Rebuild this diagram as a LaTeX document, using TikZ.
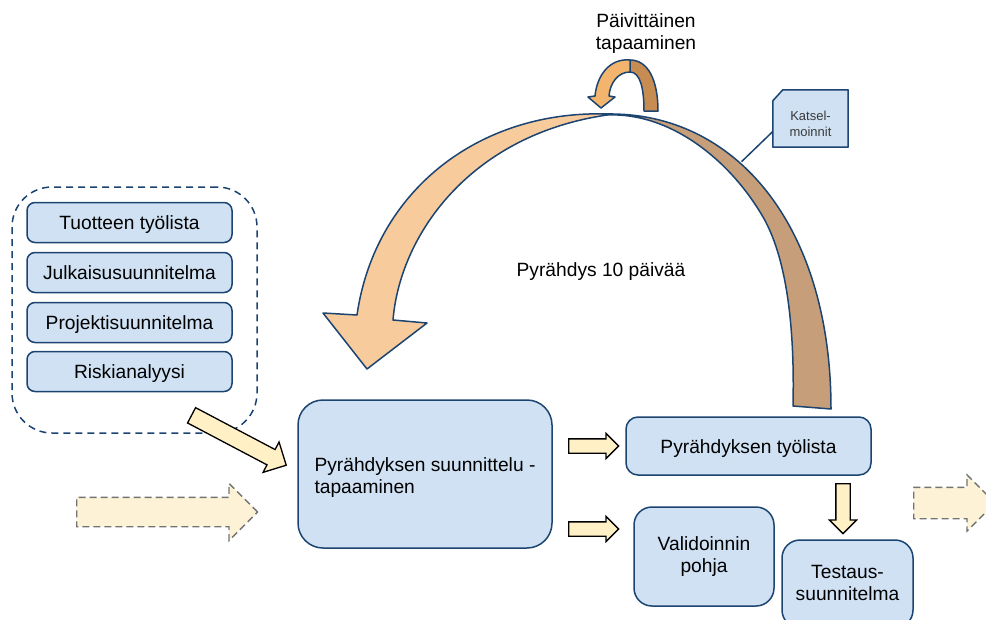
\documentclass[tikz,border=0pt]{standalone}
\usepackage{fontspec}
\setmainfont{Liberation Sans}
\usetikzlibrary{shapes.arrows}
\definecolor{boxfill}{HTML}{CFE1F3}
\definecolor{boxline}{HTML}{1B4470}
\definecolor{cream}{HTML}{FFF0C6}
\definecolor{creamlight}{HTML}{FEF2D6}
\definecolor{peach}{HTML}{F8CB9D}
\definecolor{tanarc}{HTML}{C69F7A}
\definecolor{loopor}{HTML}{F3B46E}
\definecolor{loopbr}{HTML}{C68C52}
\definecolor{notetext}{HTML}{3A3A3A}
\begin{document}
\begin{tikzpicture}[x=1pt,y=-1pt,
  bluebox/.style={draw=boxline, fill=boxfill, line width=1.5pt, inner sep=0pt,
    font=\fontsize{19.2}{22}\selectfont, align=center},
  oneline/.style={text height=15pt, text depth=1pt},
  blockarrow/.style={single arrow, draw=black, fill=cream, line width=1.3pt, inner xsep=0pt, anchor=tail},
  dasharrow/.style={single arrow, draw=black!55, fill=creamlight, line width=1.3pt,
    dash pattern=on 7pt off 4pt, inner xsep=0pt, anchor=tail},
  arcline/.style={draw=boxline, line width=1.5pt, line join=round},
  plain/.style={font=\fontsize{19.2}{22}\selectfont, align=center, inner sep=0pt}]
\useasboundingbox (0,0) rectangle (986,619);
\clip (0,0) rectangle (986,619);

% container
\node[draw=boxline, line width=1.5pt, dash pattern=on 7pt off 5pt, rounded corners=40pt,
  minimum width=245pt, minimum height=246pt, inner sep=0pt] (group) at (134.5,310) {};
\node[bluebox, oneline, rounded corners=8pt, minimum width=205pt, minimum height=40pt] (b1) at (129.5,222.5) {Tuotteen työlista};
\node[bluebox, oneline, rounded corners=8pt, minimum width=205pt, minimum height=40pt] (b2) at (129.5,272.5) {Julkaisusuunnitelma};
\node[bluebox, oneline, rounded corners=8pt, minimum width=205pt, minimum height=40pt] (b3) at (129.5,322.5) {Projektisuunnitelma};
\node[bluebox, oneline, rounded corners=8pt, minimum width=205pt, minimum height=40pt] (b4) at (129.5,371.5) {Riskianalyysi};

% main boxes
\node[bluebox, rounded corners=25pt, minimum width=254pt, minimum height=148pt] (plan) at (425,474) {};
\node[plain, align=left, yshift=-4pt] (plantext) at (plan.center) {Pyrähdyksen suunnittelu -\\tapaaminen};
\node[bluebox, oneline, rounded corners=12pt, minimum width=245pt, minimum height=58pt] (backlog) at (748.5,446) {Pyrähdyksen työlista};
\node[bluebox, rounded corners=18pt, minimum width=140pt, minimum height=99pt] (valid) at (704,556.5) {Validoinnin\\pohja};
\node[bluebox, rounded corners=18pt, minimum width=131pt, minimum height=88pt] (test) at (847.5,584) {};
\node[plain, yshift=1pt] (testtext) at (test.center) {Testaus-\\suunnitelma};

% block arrows
\node[blockarrow, minimum height=107pt, inner ysep=8pt, single arrow head extend=8.5pt, rotate=-27.8] (diag) at (191,415) {};
\node[blockarrow, minimum height=50pt, inner ysep=6.5pt, single arrow head extend=5.5pt] (a1) at (568,446) {};
\node[blockarrow, minimum height=50pt, inner ysep=6.5pt, single arrow head extend=5.5pt] (a2) at (568,529) {};
\node[blockarrow, minimum height=50pt, inner ysep=6.5pt, single arrow head extend=6.5pt, rotate=-90] (a3) at (843,483) {};
\node[dasharrow, minimum height=181pt, inner ysep=14pt, single arrow head extend=14pt] (inarrow) at (76,512) {};
\node[dasharrow, minimum height=81.5pt, inner ysep=15pt, single arrow head extend=12.5pt] (outarrow) at (913,503) {};

% big sprint arc
\path[arcline, fill=tanarc] (607,114) .. controls (735,112) and (831,225) .. (831,409)
  -- (793,406) .. controls (795,320) and (785,255) .. (763,217)
  .. controls (730,160) and (670,112) .. (607,115) -- cycle;
\path[arcline, fill=peach] (607,114) .. controls (480,110) and (375,190) .. (357,315)
  -- (323,313) -- (367,369) -- (427,323) -- (393,320)
  .. controls (400,235) and (470,135) .. (607,115) -- cycle;

% daily loop
\path[arcline, fill=loopbr] (630,60) .. controls (648,60) and (658,80) .. (658,111)
  -- (644,111) .. controls (644,88) and (640,72) .. (630,72) -- cycle;
\path[arcline, fill=loopor] (630,60) .. controls (610,58) and (597,75) .. (595,96)
  -- (588,97) -- (601,108) -- (615,97) -- (609,96)
  .. controls (610,83) and (618,72) .. (630,72) -- cycle;

% labels
\node[plain] (daily) at (646,34) {Päivittäinen\\tapaaminen};
\node[plain] (sprint) at (601,271.5) {Pyrähdys 10 päivää};

% review note
\node[minimum width=75pt, minimum height=57pt, inner sep=0pt] (note) at (810.5,118.5) {};
\draw[draw=boxline, fill=boxfill, line width=1.5pt, line join=round]
  ([yshift=-11pt]note.north west) -- ([xshift=10pt]note.north west) -- (note.north east)
  -- (note.south east) -- (note.south west) -- cycle;
\node[font=\fontsize{13}{16}\selectfont, text=notetext, align=center, inner sep=0pt, yshift=-5pt] (notetext) at (note.center) {Katsel-\\moinnit};
\coordinate (arcpt) at (741.5,161.7);
\draw[boxline, line width=1.5pt] ([yshift=-13pt]note.west) -- (arcpt);
\end{tikzpicture}
\end{document}
